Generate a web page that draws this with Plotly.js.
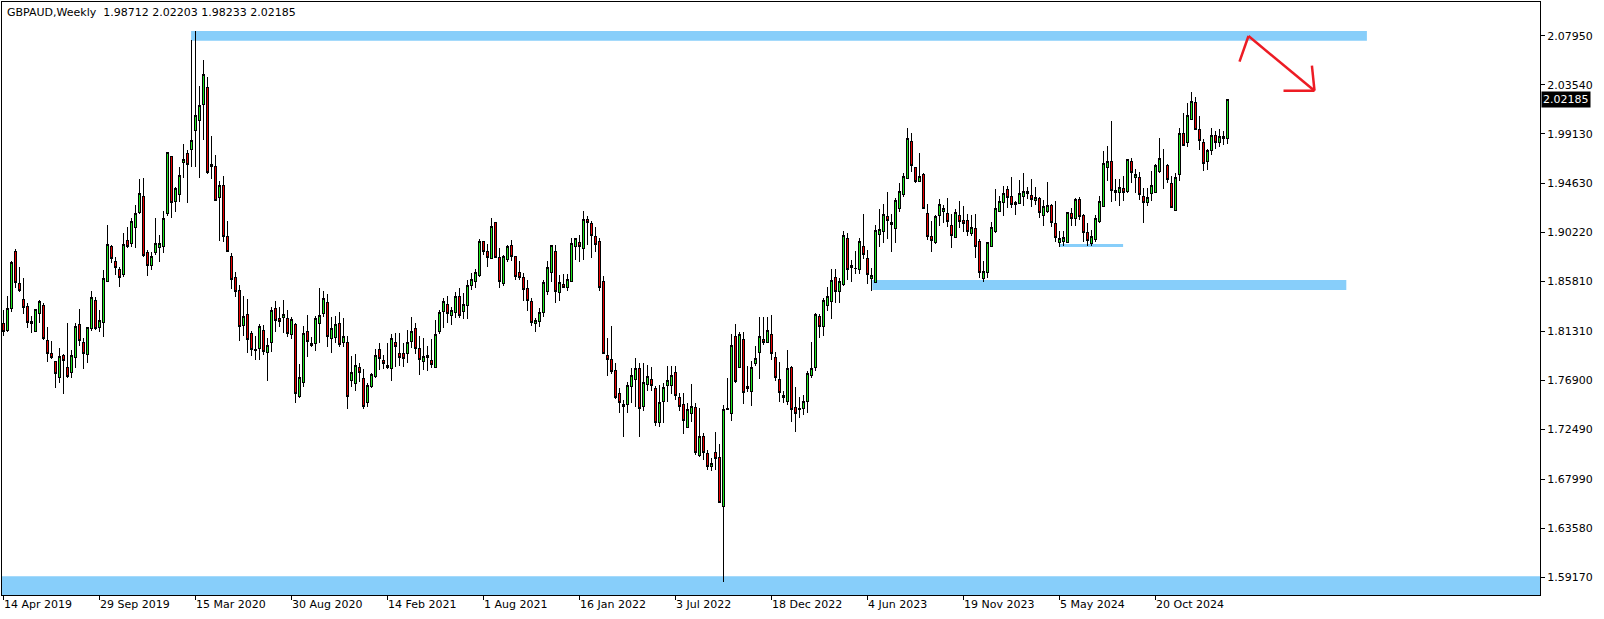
<!DOCTYPE html>
<html><head><meta charset="utf-8">
<script src="https://cdn.plot.ly/plotly-3.0.1.min.js"></script>
<style>html,body{margin:0;padding:0;background:#fff;overflow:hidden}#chart{width:1604px;height:619px}
#chart .boxlayer path{shape-rendering:crispEdges}</style>
</head><body><div id="chart"></div>
<script>
const chartTitle = "GBPAUD,Weekly\u00a0 1.98712 2.02203 1.98233 2.02185";
const firstWeek = "2019-04-14";
const lastPrice = 2.02185;

const open = [
1.8198,1.8143,1.8333,1.8855,1.8567,1.8414,1.8351,1.8216,1.8134,1.8288,
1.8360,1.8053,1.7936,1.7864,1.7711,1.7918,1.7810,1.7756,1.7900,1.8189,
1.8035,1.7927,1.8153,1.8405,1.8162,1.8207,1.8585,1.8892,1.8765,1.8693,
1.8648,1.8946,1.8919,1.9063,1.9207,1.9351,1.8838,1.8729,1.8838,1.8883,
1.8892,1.9189,1.9703,1.9306,1.9369,1.9649,1.9730,1.9766,1.9946,2.0036,
2.0180,2.0325,1.9613,1.9613,1.9342,1.9450,1.8982,1.8810,1.8621,1.8495,
1.8180,1.8279,1.8116,1.7972,1.7981,1.8143,1.7945,1.8035,1.8333,1.8243,
1.8252,1.8243,1.8107,1.8189,1.7540,1.7666,1.8134,1.8026,1.8026,1.8198,
1.8288,1.8387,1.8071,1.8080,1.8198,1.8035,1.8035,1.7684,1.7657,1.7810,
1.7702,1.7486,1.7630,1.7720,1.7972,1.7873,1.7828,1.7792,1.8035,1.7936,
1.7936,1.7936,1.8044,1.8153,1.7981,1.7864,1.7900,1.7873,1.7810,1.8134,
1.8306,1.8369,1.8270,1.8297,1.8441,1.8306,1.8360,1.8549,1.8585,1.8639,
1.8937,1.8847,1.8792,1.9108,1.8801,1.8567,1.8783,1.8901,1.8810,1.8666,
1.8621,1.8522,1.8396,1.8198,1.8216,1.8297,1.8486,1.8666,1.8855,1.8477,
1.8558,1.8531,1.8585,1.8892,1.8928,1.8874,1.9135,1.9099,1.8982,1.8937,
1.8585,1.7918,1.7882,1.7774,1.7567,1.7476,1.7476,1.7630,1.7693,1.7792,
1.7458,1.7648,1.7693,1.7612,1.7314,1.7495,1.7639,1.7639,1.7756,1.7531,
1.7476,1.7269,1.7395,1.7449,1.7008,1.7188,1.7026,1.6909,1.7035,1.6990,
1.6557,1.7431,1.7395,1.8089,1.7810,1.8062,1.7612,1.7585,1.7846,1.7945,
1.8062,1.8035,1.8107,1.7900,1.7693,1.7549,1.7495,1.7801,1.7449,1.7440,
1.7440,1.7495,1.7729,1.7810,1.8261,1.8171,1.8360,1.8396,1.8621,1.8486,
1.8558,1.8964,1.8711,1.8702,1.8693,1.8892,1.8792,1.8612,1.8576,1.9000,
1.9027,1.9162,1.9108,1.9054,1.9243,1.9369,1.9513,1.9838,1.9604,1.9486,
1.9549,1.9189,1.8982,1.8928,1.9171,1.9216,1.9189,1.9081,1.8973,1.9171,
1.9126,1.9126,1.9009,1.9054,1.8937,1.8612,1.8666,1.8892,1.9027,1.9216,
1.9297,1.9414,1.9351,1.9279,1.9288,1.9351,1.9378,1.9360,1.9315,1.9333,
1.9171,1.9216,1.9270,1.9099,1.8928,1.8937,1.8928,1.9198,1.9144,1.9324,
1.9171,1.9018,1.8919,1.8955,1.9117,1.9261,1.9604,1.9658,1.9405,1.9387,
1.9423,1.9396,1.9658,1.9522,1.9522,1.9351,1.9297,1.9378,1.9387,1.9568,
1.9604,1.9622,1.9468,1.9225,1.9549,1.9919,1.9829,2.0045,2.0198,1.9955,
1.9829,1.9658,1.9757,1.9901,1.9829,1.9892,1.98712];

const high = [
1.8324,1.8450,1.8765,1.8874,1.8711,1.8612,1.8387,1.8270,1.8333,1.8414,
1.8387,1.8171,1.8044,1.7864,1.7981,1.7927,1.8207,1.7963,1.8207,1.8333,
1.8071,1.8171,1.8495,1.8441,1.8324,1.8684,1.9090,1.8910,1.8801,1.8711,
1.9018,1.9072,1.9153,1.9270,1.9504,1.9513,1.8865,1.8847,1.9153,1.9000,
1.9216,1.9748,1.9703,1.9432,1.9613,1.9820,1.9766,2.0757,2.0838,2.0343,
2.0577,2.0424,1.9892,1.9721,1.9486,1.9531,1.9126,1.8838,1.8666,1.8549,
1.8450,1.8423,1.8134,1.8089,1.8198,1.8189,1.8071,1.8351,1.8405,1.8351,
1.8414,1.8324,1.8261,1.8207,1.7837,1.8180,1.8279,1.8080,1.8270,1.8522,
1.8495,1.8468,1.8261,1.8270,1.8306,1.8252,1.8089,1.7909,1.7927,1.7846,
1.7792,1.7666,1.7756,1.7972,1.8026,1.7918,1.8026,1.8107,1.8116,1.8116,
1.8026,1.8143,1.8261,1.8207,1.8089,1.8071,1.7999,1.8062,1.8234,1.8324,
1.8432,1.8450,1.8351,1.8486,1.8522,1.8477,1.8594,1.8657,1.8693,1.8964,
1.8937,1.8919,1.9153,1.9117,1.8883,1.8819,1.8910,1.8955,1.8810,1.8765,
1.8657,1.8594,1.8432,1.8252,1.8342,1.8594,1.8765,1.8910,1.8910,1.8639,
1.8648,1.8648,1.8973,1.8973,1.9000,1.9216,1.9171,1.9126,1.9072,1.8973,
1.8630,1.8071,1.8180,1.7846,1.7621,1.7513,1.7675,1.7801,1.7891,1.7846,
1.7846,1.7828,1.7810,1.7639,1.7648,1.7666,1.7819,1.7819,1.7819,1.7576,
1.7576,1.7486,1.7657,1.7486,1.7440,1.7215,1.7062,1.6990,1.7224,1.7116,
1.7467,1.7711,1.8107,1.8198,1.8125,1.8125,1.7819,1.7864,1.7999,1.8261,
1.8261,1.8261,1.8279,1.7945,1.7855,1.7594,1.7963,1.7819,1.7630,1.7540,
1.7558,1.7774,1.8035,1.8297,1.8288,1.8432,1.8531,1.8693,1.8693,1.8612,
1.9036,1.9018,1.8774,1.8855,1.8973,1.9189,1.8865,1.8702,1.9090,1.9234,
1.9279,1.9387,1.9189,1.9333,1.9468,1.9559,1.9964,1.9919,1.9613,1.9739,
1.9559,1.9279,1.9126,1.9180,1.9324,1.9270,1.9333,1.9189,1.9234,1.9306,
1.9261,1.9189,1.9180,1.9189,1.8964,1.8765,1.8937,1.9117,1.9414,1.9351,
1.9441,1.9441,1.9522,1.9306,1.9495,1.9559,1.9432,1.9504,1.9432,1.9342,
1.9315,1.9477,1.9279,1.9306,1.9036,1.9036,1.9207,1.9243,1.9333,1.9342,
1.9189,1.9108,1.9045,1.9180,1.9351,1.9757,1.9802,2.0027,1.9504,1.9504,
1.9531,1.9685,1.9694,1.9595,1.9568,1.9423,1.9423,1.9577,1.9640,1.9874,
1.9775,1.9640,1.9531,1.9559,1.9964,2.0099,2.0189,2.0289,2.0243,2.0072,
1.9865,1.9775,1.9964,1.9937,1.9955,1.9937,2.02203];

const low = [
1.8089,1.8125,1.8306,1.8522,1.8486,1.8288,1.8162,1.8116,1.8125,1.8207,
1.8053,1.7855,1.7882,1.7621,1.7666,1.7567,1.7711,1.7711,1.7801,1.7999,
1.7792,1.7846,1.8134,1.8143,1.8125,1.8080,1.8576,1.8747,1.8639,1.8531,
1.8621,1.8883,1.8892,1.8883,1.9189,1.8801,1.8630,1.8684,1.8819,1.8756,
1.8838,1.9171,1.9153,1.9207,1.9297,1.9513,1.9288,1.9613,1.9613,1.9513,
1.9856,1.9549,1.9504,1.9306,1.8946,1.8937,1.8847,1.8513,1.8441,1.8044,
1.8089,1.7936,1.7909,1.7873,1.7873,1.7918,1.7684,1.7945,1.8125,1.8171,
1.8116,1.8080,1.8062,1.7486,1.7531,1.7630,1.7900,1.7990,1.7954,1.8026,
1.8261,1.7990,1.7936,1.8026,1.7990,1.7990,1.7431,1.7630,1.7594,1.7675,
1.7431,1.7449,1.7621,1.7711,1.7783,1.7792,1.7792,1.7684,1.7810,1.7819,
1.7810,1.7846,1.7981,1.7927,1.7738,1.7783,1.7774,1.7801,1.7810,1.8107,
1.8162,1.8207,1.8189,1.8252,1.8252,1.8243,1.8243,1.8504,1.8522,1.8621,
1.8819,1.8711,1.8792,1.8801,1.8522,1.8540,1.8756,1.8765,1.8594,1.8594,
1.8405,1.8315,1.8180,1.8125,1.8171,1.8261,1.8459,1.8576,1.8387,1.8405,
1.8522,1.8495,1.8576,1.8774,1.8756,1.8774,1.8910,1.8792,1.8847,1.8495,
1.7927,1.7729,1.7747,1.7522,1.7395,1.7179,1.7395,1.7486,1.7449,1.7179,
1.7413,1.7594,1.7594,1.7278,1.7269,1.7305,1.7495,1.7567,1.7513,1.7413,
1.7206,1.7269,1.7314,1.7017,1.6999,1.6972,1.6882,1.6873,1.6882,1.6584,
1.5872,1.7422,1.7323,1.7666,1.7801,1.7476,1.7585,1.7458,1.7819,1.7702,
1.8008,1.8026,1.7873,1.7684,1.7495,1.7486,1.7467,1.7314,1.7224,1.7350,
1.7377,1.7395,1.7711,1.7774,1.8071,1.8089,1.8315,1.8243,1.8387,1.8387,
1.8540,1.8594,1.8576,1.8648,1.8648,1.8783,1.8558,1.8495,1.8576,1.8892,
1.8928,1.8964,1.8847,1.8928,1.9207,1.9342,1.9513,1.9568,1.9468,1.9477,
1.9234,1.8955,1.8847,1.8919,1.9081,1.9108,1.9072,1.8883,1.8973,1.9063,
1.9027,1.8991,1.8991,1.8792,1.8612,1.8576,1.8612,1.8892,1.9018,1.9207,
1.9171,1.9243,1.9243,1.9180,1.9279,1.9261,1.9324,1.9252,1.9270,1.9153,
1.9081,1.9198,1.9072,1.8937,1.8892,1.8901,1.8928,1.9081,1.9081,1.9135,
1.8937,1.8901,1.8901,1.8937,1.9108,1.9261,1.9486,1.9297,1.9306,1.9261,
1.9306,1.9378,1.9468,1.9378,1.9315,1.9108,1.9261,1.9306,1.9378,1.9559,
1.9414,1.9468,1.9243,1.9216,1.9486,1.9802,1.9793,2.0045,1.9946,1.9766,
1.9577,1.9586,1.9721,1.9775,1.9793,1.9811,1.98233];

const close = [
1.8134,1.8333,1.8756,1.8576,1.8504,1.8342,1.8207,1.8198,1.8324,1.8396,
1.8071,1.7936,1.7900,1.7747,1.7909,1.7873,1.7720,1.7918,1.8171,1.8053,
1.7936,1.8162,1.8432,1.8153,1.8225,1.8612,1.8910,1.8792,1.8711,1.8621,
1.8910,1.8892,1.9117,1.9198,1.9378,1.8819,1.8729,1.8810,1.8919,1.8919,
1.9144,1.9739,1.9297,1.9423,1.9540,1.9676,1.9631,1.9847,2.0081,2.0171,
2.0442,1.9559,1.9631,1.9315,1.9450,1.8982,1.8855,1.8603,1.8486,1.8171,
1.8261,1.8062,1.7972,1.7963,1.8171,1.7954,1.8008,1.8315,1.8225,1.8216,
1.8279,1.8116,1.8234,1.7567,1.7711,1.8116,1.8044,1.8008,1.8243,1.8270,
1.8423,1.8089,1.8153,1.8189,1.8017,1.8089,1.7540,1.7756,1.7828,1.7756,
1.7458,1.7639,1.7738,1.7918,1.7891,1.7846,1.7801,1.8071,1.7999,1.7900,
1.7891,1.8035,1.8134,1.7981,1.7882,1.7909,1.7918,1.7837,1.8107,1.8297,
1.8396,1.8288,1.8315,1.8441,1.8270,1.8369,1.8549,1.8603,1.8666,1.8937,
1.8855,1.8801,1.9072,1.8801,1.8585,1.8810,1.8892,1.8810,1.8630,1.8621,
1.8513,1.8405,1.8207,1.8225,1.8297,1.8576,1.8711,1.8901,1.8486,1.8576,
1.8531,1.8603,1.8919,1.8964,1.8892,1.9135,1.9108,1.8991,1.8910,1.8531,
1.7936,1.7882,1.7765,1.7531,1.7486,1.7458,1.7639,1.7729,1.7792,1.7440,
1.7666,1.7720,1.7639,1.7314,1.7486,1.7621,1.7684,1.7729,1.7549,1.7458,
1.7332,1.7431,1.7458,1.7035,1.7188,1.7035,1.6909,1.6936,1.6981,1.6593,
1.7431,1.7440,1.8008,1.7675,1.8107,1.7576,1.7630,1.7810,1.7891,1.8089,
1.8035,1.8143,1.7936,1.7711,1.7576,1.7531,1.7792,1.7431,1.7395,1.7431,
1.7503,1.7747,1.7792,1.8279,1.8171,1.8405,1.8441,1.8594,1.8486,1.8585,
1.8991,1.8693,1.8729,1.8701,1.8937,1.8828,1.8648,1.8639,1.9036,1.9045,
1.9180,1.9126,1.9090,1.9315,1.9396,1.9531,1.9865,1.9622,1.9486,1.9531,
1.9243,1.8982,1.8946,1.9162,1.9279,1.9243,1.9117,1.8991,1.9207,1.9117,
1.9099,1.9027,1.9063,1.8892,1.8666,1.8675,1.8928,1.9063,1.9243,1.9306,
1.9378,1.9342,1.9279,1.9297,1.9378,1.9396,1.9396,1.9324,1.9342,1.9207,
1.9261,1.9270,1.9108,1.8973,1.8964,1.8973,1.9207,1.9144,1.9324,1.9162,
1.9018,1.8946,1.8982,1.9144,1.9306,1.9640,1.9658,1.9405,1.9387,1.9432,
1.9387,1.9676,1.9559,1.9549,1.9369,1.9297,1.9342,1.9450,1.9622,1.9685,
1.9604,1.9504,1.9252,1.9522,1.9919,1.9802,2.0081,2.0207,1.9955,1.9847,
1.9640,1.9757,1.9901,1.9829,1.9892,1.9871,2.02185];

const xTickDates = ["2019-04-14","2019-09-29","2020-03-15","2020-08-30","2021-02-14","2021-08-01","2022-01-16","2022-07-03","2022-12-18","2023-06-04","2023-11-19","2024-05-05","2024-10-20"];
const xTickText = ["14 Apr 2019","29 Sep 2019","15 Mar 2020","30 Aug 2020","14 Feb 2021","1 Aug 2021","16 Jan 2022","3 Jul 2022","18 Dec 2022","4 Jun 2023","19 Nov 2023","5 May 2024","20 Oct 2024"];
const yTickVals = [2.0795,2.0354,1.9913,1.9463,1.9022,1.8581,1.8131,1.7690,1.7249,1.6799,1.6358,1.5917];
const yTickText = ["2.07950","2.03540","1.99130","1.94630","1.90220","1.85810","1.81310","1.76900","1.72490","1.67990","1.63580","1.59170"];

// drawn zones (rectangles): start, end, upper price, lower price
const zoneStart = ["2020-03-07 07:00","2023-06-12 10:00","2024-05-04 07:00","2018-06-01 00:00"];
const zoneEnd   = ["2025-10-24 23:00","2025-09-18 22:00","2024-08-24 07:00","2028-06-01 00:00"];
const zoneTop   = [2.0838,1.8594,1.8919,1.5923];
const zoneBottom= [2.0751,1.8504,1.8892,1.5400];

// hand-drawn red arrow
const arrowX = ["2025-03-16 00:00","2025-03-31 18:00","2025-07-25 06:00"];
const arrowY = [2.0562,2.0793,2.0300];
const headX = ["2025-06-01 00:00","2025-07-25 06:00","2025-07-20 17:00"];
const headY = [2.0300,2.0300,2.0526];

const DAY = 86400000;
const t0 = Date.parse(firstWeek + "T00:00:00Z");
function fmt(ms){ return new Date(ms).toISOString().replace('T',' ').slice(0,19); }
const weeks = open.map((_, i) => fmt(t0 + i*7*DAY));
const xRange = [fmt(t0 - 0.375*7*DAY), fmt(t0 + 384.125*7*DAY)];

const FONT = "DejaVu Sans, Verdana, sans-serif";

const shapes = [];
for (let k = 0; k < zoneStart.length; k++) {
  shapes.push({type:'rect', xref:'x', yref:'y', x0:zoneStart[k], x1:zoneEnd[k], y0:zoneBottom[k], y1:zoneTop[k],
    fillcolor:'#87CEFA', line:{width:0}, layer:'below'});
}
for (let k = 0; k < arrowX.length-1; k++) {
  shapes.push({type:'line', xref:'x', yref:'y', x0:arrowX[k], y0:arrowY[k], x1:arrowX[k+1], y1:arrowY[k+1],
    line:{color:'#ED1C24', width:2.5}, layer:'above'});
}
for (let k = 0; k < headX.length-1; k++) {
  shapes.push({type:'line', xref:'x', yref:'y', x0:headX[k], y0:headY[k], x1:headX[k+1], y1:headY[k+1],
    line:{color:'#ED1C24', width:2.5}, layer:'above'});
}

const annotations = xTickDates.map((d, k) => ({
  x:d, xref:'x', y:0, yref:'paper', xanchor:'left', yanchor:'top', xshift:-2, yshift:-1,
  text:xTickText[k], showarrow:false, font:{family:FONT, size:11, color:'#000'}
}));
annotations.push({x:0, xref:'paper', y:1, yref:'paper', xanchor:'left', yanchor:'top', xshift:3, yshift:-2,
  text:chartTitle, showarrow:false, font:{family:FONT, size:11, color:'#000'}});
annotations.push({x:1, xref:'paper', y:lastPrice, yref:'y', xanchor:'left', yanchor:'middle', xshift:1,
  text:lastPrice.toFixed(5), showarrow:false, bgcolor:'#000', borderpad:1,
  font:{family:FONT, size:11, color:'#fff'}});

const trace = {
  type:'candlestick', x:weeks, open:open, high:high, low:low, close:close,
  increasing:{line:{color:'#000', width:1}, fillcolor:'#1EE61E'},
  decreasing:{line:{color:'#000', width:1}, fillcolor:'#E80000'},
  whiskerwidth:0, hoverinfo:'skip', showlegend:false
};

const layout = {
  width:1604, height:619,
  margin:{l:2, r:64, t:2, b:24, pad:0},
  paper_bgcolor:'#fff', plot_bgcolor:'#fff',
  showlegend:false, hovermode:false, boxgap:0.5,
  xaxis:{type:'date', range:xRange, rangeslider:{visible:false}, showgrid:false, zeroline:false,
    showline:true, linecolor:'#000', linewidth:1, mirror:true,
    tickmode:'array', tickvals:xTickDates, ticks:'outside', ticklen:4, tickcolor:'#000', showticklabels:false},
  yaxis:{side:'right', range:[1.5755, 2.10997], showgrid:false, zeroline:false,
    showline:true, linecolor:'#000', linewidth:1, mirror:true,
    tickmode:'array', tickvals:yTickVals, ticktext:yTickText, ticks:'outside', ticklen:4, tickcolor:'#000',
    tickfont:{family:FONT, size:11, color:'#000'}},
  shapes:shapes, annotations:annotations
};

Plotly.newPlot('chart', [trace], layout, {staticPlot:true, displayModeBar:false});
</script>
</body></html>
